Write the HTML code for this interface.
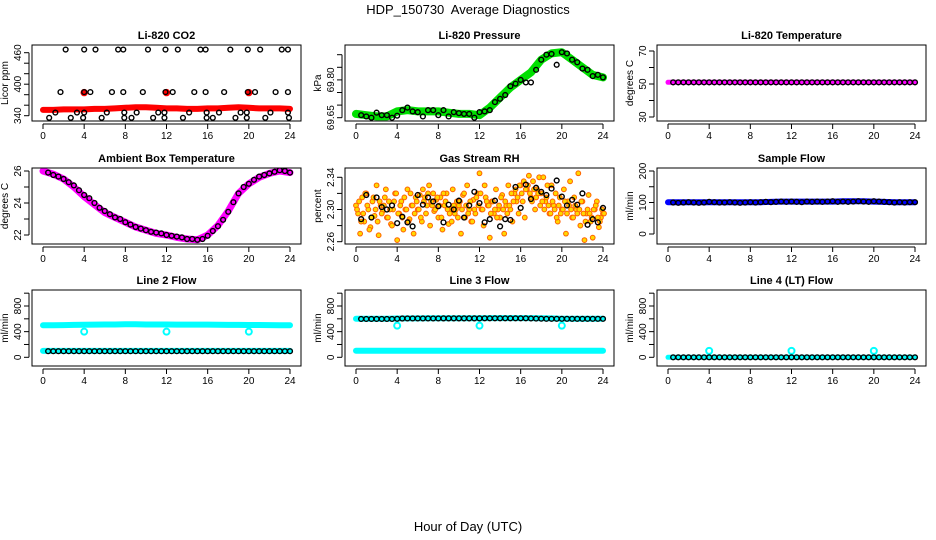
<!DOCTYPE html>
<html><head><meta charset="utf-8">
<style>
html,body{margin:0;padding:0;background:#fff;}
svg{display:block;font-family:"Liberation Sans",Arial,sans-serif;}
</style></head>
<body>
<svg id="chart" width="936" height="540" viewBox="0 0 936 540" xmlns="http://www.w3.org/2000/svg">
<text x="468" y="14" text-anchor="middle" font-size="13">HDP_150730&#160; Average Diagnostics</text>
<text x="468" y="531" text-anchor="middle" font-size="13">Hour of Day (UTC)</text>
</svg>
<script>
// ---------- shared data ----------
const xTicks = [0,4,8,12,16,20,24];
const bandHours = [0,1,2,3,4,5,6,7,8,9,10,11,12,13,14,15,16,17,18,19,20,21,22,23,24];
const circHours = [0.5,1,1.5,2,2.5,3,3.5,4,4.5,5,5.5,6,6.5,7,7.5,8,8.5,9,9.5,10,10.5,11,11.5,12,12.5,13,13.5,14,14.5,15,15.5,16,16.5,17,17.5,18,18.5,19,19.5,20,20.5,21,21.5,22,22.5,23,23.5,24];
const outlierHours = [4,12,20];

// CO2
const co2Band = [351,351,352,352,352,353,353,354,355,356,356,355,354,354,353,353,354,354,355,356,355,354,354,354,353];
const co2RedOut = [384,384,384];
const co2TopH = [2.2,4.0,5.1,7.3,7.8,10.2,11.9,13.1,15.3,15.8,18.2,19.9,21.1,23.2,23.8];
const co2TopV = [466,466,466,466,466,466,466,466,466,466,466,466,466,466,466];
const co2MidH = [1.7,4.0,4.6,6.7,7.8,9.7,11.9,12.6,14.7,15.8,17.6,19.9,20.6,22.6,23.8];
const co2MidV = [385,385,385,385,385,385,385,385,385,385,385,385,385,385,385];
const co2LowH = [1.2,3.3,4.0,6.2,7.9,9.1,11.2,11.8,14.2,15.9,17.1,19.2,19.8,22.1,23.8];
const co2LowV = [346,346,346,346,346,346,346,346,346,346,346,346,346,346,346];
const co2BotH = [0.6,2.7,3.9,5.7,7.9,8.6,10.7,11.8,13.6,15.9,16.5,18.7,19.8,21.6,23.9];
const co2BotV = [336,336,336,336,336,336,336,336,336,336,336,336,336,336,336];

// Pressure
const presBand = [69.665,69.66,69.655,69.655,69.675,69.68,69.675,69.675,69.675,69.67,69.665,69.665,69.66,69.69,69.73,69.77,69.80,69.83,69.88,69.905,69.91,69.88,69.85,69.82,69.81];
const presCirc = [69.66,69.655,69.65,69.67,69.66,69.66,69.65,69.658,69.68,69.69,69.675,69.672,69.655,69.68,69.68,69.66,69.68,69.655,69.672,69.668,69.665,69.665,69.65,69.672,69.675,69.68,69.712,69.725,69.74,69.775,69.785,69.80,69.79,69.79,69.84,69.88,69.9,69.903,69.86,69.91,69.905,69.88,69.87,69.845,69.84,69.815,69.82,69.81];

// Li-820 temperature
const tempBand = [51,51,51,51,51,51,51,51,51,51,51,51,51,51,51,51,51,51,51,51,51,51,51,51,51];
const tempCirc = [51,51,51,51,51,51,51,51,51,51,51,51,51,51,51,51,51,51,51,51,51,51,51,51,51,51,51,51,51,51,51,51,51,51,51,51,51,51,51,51,51,51,51,51,51,51,51,51];

// Ambient box temperature
const ambBand = [26.0,25.8,25.5,25.0,24.4,23.9,23.4,23.1,22.8,22.5,22.3,22.1,22.0,21.85,21.75,21.7,22.0,22.6,23.5,24.6,25.2,25.6,25.85,26.0,25.9];
const ambCirc = [25.9,25.75,25.65,25.5,25.3,25.1,24.8,24.5,24.3,24.0,23.7,23.5,23.3,23.1,23.0,22.8,22.65,22.5,22.4,22.3,22.2,22.15,22.1,22.0,21.95,21.9,21.85,21.75,21.75,21.7,21.75,21.95,22.25,22.55,22.95,23.45,24.05,24.6,25.0,25.2,25.45,25.65,25.75,25.85,25.95,26.05,26.0,25.9];

// Gas stream RH (orange cloud, one point per 0.2 h)
const rhStep = 0.2;
const rhCloud = [2.305,2.295,2.270,2.315,2.285, 2.320,2.300,2.278,2.310,2.292, 2.330,2.268,2.305,2.298,2.315, 2.290,2.310,2.282,2.300,2.320,
 2.262,2.295,2.310,2.275,2.300, 2.325,2.288,2.305,2.270,2.315, 2.300,2.318,2.285,2.310,2.295, 2.320,2.280,2.305,2.298,2.312,
 2.290,2.315,2.275,2.305,2.320, 2.282,2.300,2.325,2.295,2.310, 2.305,2.270,2.318,2.290,2.330, 2.300,2.285,2.312,2.295,2.320,
 2.345,2.300,2.280,2.315,2.305, 2.265,2.310,2.295,2.325,2.300, 2.290,2.318,2.270,2.305,2.330, 2.300,2.285,2.320,2.310,2.295,
 2.330,2.310,2.290,2.325,2.342, 2.315,2.335,2.300,2.325,2.340, 2.320,2.340,2.310,2.330,2.295, 2.330,2.305,2.320,2.285,2.315,
 2.300,2.325,2.270,2.310,2.335, 2.290,2.315,2.300,2.345,2.280, 2.310,2.262,2.295,2.318,2.285, 2.265,2.300,2.310,2.278,2.290, 2.295];
const rhCloud2 = [2.300,2.310,2.285,2.295,2.320,2.305,2.275,2.290,2.315,2.300,2.285,2.310,2.295,2.305,2.325,2.290,2.300,2.280,2.310,2.320,2.295,2.305,2.290,2.315,2.300,
 2.285,2.320,2.305,2.295,2.310,2.300,2.290,2.325,2.315,2.305,2.330,2.310,2.320,2.300,2.315,2.305,2.290,2.320,2.310,2.300,2.295,2.285,2.305,2.300,2.290,
 2.310,2.300,2.320,2.305,2.295,2.310,2.285,2.300,2.315,2.305,2.320,2.300,2.330,2.310,2.305,2.295,2.310,2.300,2.290,2.305,2.315,2.300,2.310,2.295,2.305,
 2.320,2.310,2.325,2.315,2.330,2.320,2.335,2.325,2.330,2.320,2.310,2.325,2.315,2.320,2.305,2.310,2.300,2.315,2.305,2.295,2.310,2.300,2.290,2.305,2.295,
 2.300,2.310,2.295,2.305,2.300,2.290,2.305,2.295,2.300,2.310,2.295,2.285,2.300,2.295,2.290,2.300,2.305,2.290,2.285,2.300,2.295];
const rhCirc = [2.288,2.318,2.290,2.315,2.303,2.300,2.305,2.283,2.291,2.284,2.279,2.318,2.306,2.315,2.310,2.304,2.284,2.306,2.300,2.311,2.290,2.305,2.322,2.308,2.284,2.288,2.311,2.279,2.288,2.287,2.328,2.302,2.331,2.313,2.327,2.322,2.318,2.326,2.336,2.316,2.305,2.312,2.306,2.320,2.281,2.288,2.284,2.302];

// Sample flow
const sampBand = [101,101,101,101,101,101,101,101,101,101,102,103,103,103,103,103,103,104,104,104,103,102,101,101,101];
const sampCirc = [100,99,100,101,100,99,100,102,101,100,100,101,100,99,100,101,100,101,102,101,102,103,102,103,102,101,103,102,103,102,103,104,102,103,102,103,104,103,102,104,103,102,101,100,101,100,101,101];

// Line 2 flow
const l2Upper = [500,500,502,505,508,510,512,512,514,514,512,512,512,510,510,510,510,508,506,505,504,503,502,501,500];
const l2Lower = [100,100,100,100,100,100,100,100,100,100,100,100,100,100,100,100,100,100,100,100,100,100,100,100,100];
const l2Out = [400,400,400];
const l2Circ = [95,95,95,95,95,95,95,95,95,95,95,95,95,95,95,95,95,95,95,95,95,95,95,95,95,95,95,95,95,95,95,95,95,95,95,95,95,95,95,95,95,95,95,95,95,95,95,95];

// Line 3 flow
const l3Upper = [600,600,600,602,605,606,607,608,609,609,610,610,610,611,612,612,612,611,609,606,602,600,600,600,600];
const l3Lower = [103,103,103,103,103,103,103,103,103,103,103,103,103,103,103,103,103,103,103,103,103,103,103,103,103];
const l3Out = [493,493,493];
const l3Circ = [598,598,598,598,598,598,598,600,605,606,606,606,606,606,606,606,607,607,607,607,607,607,607,607,608,608,608,608,608,608,608,608,608,606,604,602,600,600,600,600,600,600,600,600,600,600,600,600];

// Line 4 flow
const l4Band = [0,0,0,0,0,0,0,0,0,0,0,0,0,0,0,0,0,0,0,0,0,0,0,0,0];
const l4Out = [100,100,100];
const l4Circ = [0,0,0,0,0,0,0,0,0,0,0,0,0,0,0,0,0,0,0,0,0,0,0,0,0,0,0,0,0,0,0,0,0,0,0,0,0,0,0,0,0,0,0,0,0,0,0,0];

// ---------- rendering ----------
const NS = 'http://www.w3.org/2000/svg';
const svg = document.getElementById('chart');
function mk(tag, attrs, parent){
  const e = document.createElementNS(NS, tag);
  for (const k in attrs) e.setAttribute(k, attrs[k]);
  (parent||svg).appendChild(e);
  return e;
}
const colX0 = [43, 356, 668];
const rowTop = [45, 168, 290];
const XSPAN = 247, BOXH = 76;

function makePanel(col,row,title,ylab,cal,ticks,labels,name){
  const x0 = colX0[col];
  const g = mk('g',{});
  
  
  const top = rowTop[row], bot = top+BOXH, left = x0-11, right = x0+XSPAN+11;
  const sx = h => x0 + h*XSPAN/24;
  const k = (cal[3]-cal[1])/(cal[2]-cal[0]);
  const sy = v => cal[1] + (v-cal[0])*k;
  const t = mk('text',{x:(left+right)/2,y:top-6,'text-anchor':'middle','font-size':11,'font-weight':'bold'},g);
  t.textContent = title;
  
  
  const clip = mk('clipPath',{id:'c'+name},g);
  mk('rect',{x:left,y:top,width:right-left,height:BOXH},clip);
  const plot = mk('g',{'clip-path':'url(#c'+name+')'},g);
  const box = mk('rect',{x:left,y:top,width:right-left,height:BOXH,fill:'none',stroke:'#000','stroke-width':1},g);
  
  
  const xa = mk('g',{},g);
  
  
  mk('line',{x1:sx(0),x2:sx(24),y1:bot+3,y2:bot+3,stroke:'#000'},xa);
  xTicks.forEach(v=>{
    mk('line',{x1:sx(v),x2:sx(v),y1:bot+3,y2:bot+8,stroke:'#000'},xa);
    const tl = mk('text',{x:sx(v),y:bot+18,'text-anchor':'middle','font-size':10},xa);
    tl.textContent = v;
    
    
  });
  const ya = mk('g',{},g);
  
  
  mk('line',{x1:left-3,x2:left-3,y1:sy(ticks[0]),y2:sy(ticks[ticks.length-1]),stroke:'#000'},ya);
  ticks.forEach(v=>mk('line',{x1:left-8,x2:left-3,y1:sy(v),y2:sy(v),stroke:'#000'},ya));
  labels.forEach(v=>{
    const tx = left-11, ty = sy(parseFloat(v));
    const tl = mk('text',{x:tx,y:ty,'text-anchor':'middle','font-size':10,transform:`rotate(-90 ${tx} ${ty})`},ya);
    tl.textContent = v;
    
    
  });
  const ax = left-24, ay = (top+bot)/2;
  const yl = mk('text',{x:ax,y:ay,'text-anchor':'middle','font-size':10,transform:`rotate(-90 ${ax} ${ay})`},g);
  yl.textContent = ylab;
  
  
  return {plot,sx,sy};
}
function band(p,hours,vals,color,w,name){
  const pts = hours.map((h,i)=>p.sx(h).toFixed(1)+','+p.sy(vals[i]).toFixed(1)).join(' ');
  const l = mk('polyline',{points:pts,fill:'none',stroke:color,'stroke-width':w,'stroke-linejoin':'round','stroke-linecap':'round'},p.plot);
  
  
}
function circles(p,hours,vals,color,name,r,fill,sw){
  const g = mk('g',{},p.plot);
  
  
  hours.forEach((h,i)=>{
    mk('circle',{cx:p.sx(h),cy:p.sy(vals[i]),r:r||2.4,fill:fill||'none',stroke:color,'stroke-width':sw||1.4},g);
  });
}

let p = makePanel(0,0,'Li-820 CO2','Licor ppm',[340,115.7,460,52.7],[340,360,380,400,420,440,460],['340','400','460'],'co2');
band(p,bandHours,co2Band,'#ff0000',6,'co2-band');
circles(p,outlierHours,co2RedOut,'#ff0000','co2-red-outliers',3,'#ff0000');
circles(p,co2TopH,co2TopV,'#000','co2-circles-top');
circles(p,co2MidH,co2MidV,'#000','co2-circles-mid');
circles(p,co2LowH,co2LowV,'#000','co2-circles-low');
circles(p,co2BotH,co2BotV,'#000','co2-circles-bottom');

p = makePanel(1,0,'Li-820 Pressure','kPa',[69.65,117.7,69.80,79.9],[69.65,69.70,69.75,69.80,69.85,69.90],['69.65','69.80'],'pressure');
band(p,bandHours,presBand,'#00e000',8,'pressure-band');
circles(p,circHours,presCirc,'#000','pressure-circles');

p = makePanel(2,0,'Li-820 Temperature','degrees C',[30,117,70,51],[30,40,50,60,70],['30','50','70'],'li820-temp');
band(p,bandHours,tempBand,'#ff00ff',5,'li820-temp-band');
circles(p,circHours,tempCirc,'#000','li820-temp-circles');

p = makePanel(0,1,'Ambient Box Temperature','degrees C',[22,235,26,171],[22,23,24,25,26],['22','24','26'],'ambient');
band(p,bandHours,ambBand,'#ff00ff',7,'ambient-band');
circles(p,circHours,ambCirc,'#000','ambient-circles');

p = makePanel(1,1,'Gas Stream RH','percent',[2.26,241.7,2.34,177.3],[2.26,2.28,2.30,2.32,2.34],['2.26','2.30','2.34'],'rh');
circles(p,rhCloud.map((v,i)=>i*rhStep),rhCloud,'#ff6000','rh-cloud',2.4,'#ffd800',1);
circles(p,rhCloud2.map((v,i)=>i*rhStep+0.1),rhCloud2,'#ff6000','rh-cloud-2',2.4,'#ffd800',1);
circles(p,circHours,rhCirc,'#000','rh-circles');

p = makePanel(2,1,'Sample Flow','ml/min',[0,234,200,171],[0,50,100,150,200],['0','100','200'],'sample-flow');
band(p,bandHours,sampBand,'#0000ff',6,'sample-flow-band');
circles(p,circHours,sampCirc,'#000','sample-flow-circles');

p = makePanel(0,2,'Line 2 Flow','ml/min',[0,357.3,800,306],[0,200,400,600,800,1000],['0','400','800'],'line2');
band(p,bandHours,l2Upper,'#00ffff',6,'line2-upper-band');
band(p,bandHours,l2Lower,'#00ffff',6,'line2-lower-band');
circles(p,outlierHours,l2Out,'#00ffff','line2-outliers',3,'none',2);
circles(p,circHours,l2Circ,'#000','line2-circles');

p = makePanel(1,2,'Line 3 Flow','ml/min',[0,357.3,800,306],[0,200,400,600,800,1000],['0','400','800'],'line3');
band(p,bandHours,l3Upper,'#00ffff',6,'line3-upper-band');
band(p,bandHours,l3Lower,'#00ffff',6,'line3-lower-band');
circles(p,outlierHours,l3Out,'#00ffff','line3-outliers',3,'none',2);
circles(p,circHours,l3Circ,'#000','line3-circles');

p = makePanel(2,2,'Line 4 (LT) Flow','ml/min',[0,357.3,800,306],[0,200,400,600,800,1000],['0','400','800'],'line4');
band(p,bandHours,l4Band,'#00ffff',5,'line4-band');
circles(p,outlierHours,l4Out,'#00ffff','line4-outliers',3,'none',2);
circles(p,circHours,l4Circ,'#000','line4-circles');
</script>
</body></html>
